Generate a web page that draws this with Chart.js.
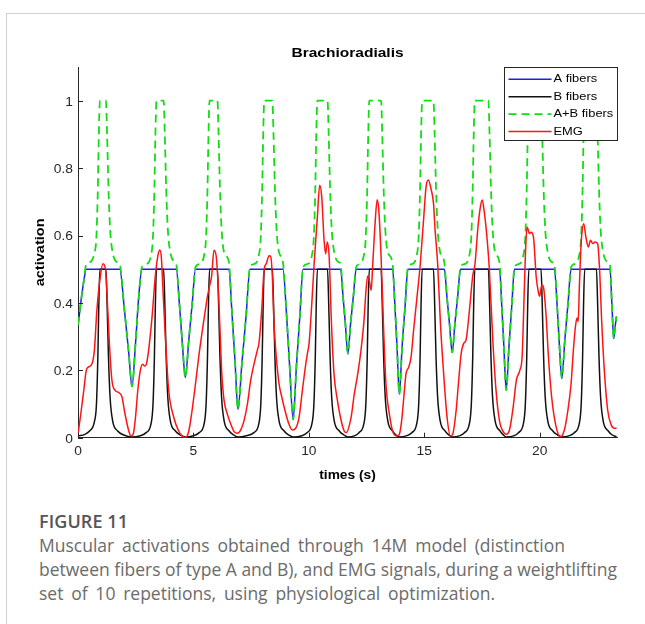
<!DOCTYPE html>
<html>
<head>
<meta charset="utf-8">
<script src="https://cdn.jsdelivr.net/npm/chart.js@4"></script>
<style>
  html, body { margin:0; padding:0; background:#fff; }
  body { width:645px; height:624px; position:relative; overflow:hidden; }
  #card { position:absolute; left:6px; top:13px; width:700px; height:700px;
          border-left:1px solid #cfcfcf; border-top:1px solid #cfcfcf; }
  #cv { position:absolute; left:0; top:0; }
  #fig { position:absolute; left:39px; top:509px; font-family:"Open Sans", sans-serif;
         font-size:18px; line-height:24px; font-weight:600; color:#555; white-space:nowrap; }
  #cap { position:absolute; left:39px; top:533px; font-family:"Open Sans", sans-serif;
         font-size:17.5px; line-height:24px; color:#6b6b6b; white-space:nowrap; }
  #cap span, #fig span { display:inline-block; }
</style>
</head>
<body>
<div id="card"></div>
<canvas id="cv" width="645" height="490"></canvas>
<div id="fig"><span>FIGURE 11</span></div>
<div id="cap"><span data-w="526">Muscular activations obtained through 14M model (distinction</span><br><span data-w="578">between fibers of type A and B), and EMG signals, during a weightlifting</span><br><span data-w="456">set of 10 repetitions, using physiological optimization.</span></div>
<script>
const chartTitle = "Brachioradialis";
const xTitle = "times (s)";
const yTitle = "activation";
const xTicks = [0, 5, 10, 15, 20];
const xTickLabels = ["0", "5", "10", "15", "20"];
const yTicks = [0, 0.2, 0.4, 0.6, 0.8, 1];
const yTickLabels = ["0", "0.2", "0.4", "0.6", "0.8", "1"];
const seriesNames = ["A fibers", "B fibers", "A+B fibers", "EMG"];

// A fibers
const tA = [0,0.12,0.24,0.36,1.81,2.01,2.20,2.34,2.49,2.63,2.77,
  4.26,4.39,4.52,4.65,4.80,4.95,5.09,
  6.54,6.67,6.80,6.93,7.10,7.28,7.45,
  8.88,9.03,9.17,9.32,9.46,9.61,9.75,
  11.38,11.48,11.58,11.69,11.81,11.93,12.05,
  13.63,13.73,13.82,13.92,14.04,14.17,14.29,
  15.87,15.98,16.09,16.21,16.33,16.45,16.57,
  18.26,18.36,18.45,18.55,18.67,18.79,18.91,
  20.64,20.75,20.85,20.96,21.09,21.23,21.36,
  23.05,23.12,23.21,23.27,23.33];
const vA = [0.33,0.40,0.46,0.5,0.5,0.38,0.25,0.152,0.278,0.417,0.5,
  0.5,0.40,0.28,0.179,0.29,0.40,0.5,
  0.5,0.37,0.23,0.084,0.22,0.36,0.5,
  0.5,0.37,0.21,0.054,0.21,0.36,0.5,
  0.5,0.42,0.34,0.249,0.34,0.42,0.5,
  0.5,0.39,0.27,0.129,0.27,0.39,0.5,
  0.5,0.42,0.34,0.253,0.34,0.42,0.5,
  0.5,0.39,0.27,0.141,0.27,0.39,0.5,
  0.5,0.40,0.28,0.176,0.29,0.40,0.5,
  0.5,0.41,0.294,0.33,0.36];

// B fibers
const tB = [0,0.3,0.5,0.7,0.8,0.86,0.9,0.95,1.21,1.26,1.32,1.39,1.50,1.72,1.98,2.34,
  2.70,2.95,3.16,3.25,3.31,3.35,3.40,3.71,3.76,3.82,3.89,4.00,4.22,4.44,4.65,
  5.00,5.25,5.46,5.55,5.61,5.65,5.70,6.04,6.09,6.15,6.22,6.33,6.55,6.75,6.93,
  7.30,7.62,7.83,7.92,7.98,8.02,8.07,8.42,8.47,8.53,8.60,8.71,8.93,9.13,9.32,
  9.70,9.92,10.13,10.22,10.28,10.32,10.37,10.81,10.86,10.92,10.99,11.10,11.32,11.52,11.69,
  12.00,12.17,12.38,12.47,12.53,12.57,12.62,13.13,13.18,13.24,13.31,13.42,13.62,13.78,13.92,
  14.25,14.46,14.67,14.76,14.82,14.86,14.91,15.40,15.45,15.51,15.58,15.69,15.90,16.07,16.21,
  16.55,16.74,16.95,17.04,17.10,17.14,17.19,17.78,17.83,17.89,17.96,18.07,18.28,18.43,18.55,
  18.90,19.08,19.29,19.38,19.44,19.48,19.53,20.06,20.11,20.17,20.24,20.35,20.57,20.78,20.96,
  21.30,21.50,21.71,21.80,21.86,21.90,21.95,22.46,22.51,22.57,22.64,22.75,22.97,23.15,23.33];
const vB = [0.005,0.01,0.02,0.045,0.1,0.24,0.39,0.5,0.5,0.4,0.24,0.12,0.05,0.02,0.008,0.002,
  0.006,0.015,0.04,0.1,0.24,0.39,0.5,0.5,0.4,0.24,0.12,0.05,0.02,0.008,0.002,
  0.006,0.015,0.04,0.1,0.24,0.39,0.5,0.5,0.4,0.24,0.12,0.05,0.02,0.008,0.002,
  0.006,0.015,0.04,0.1,0.24,0.39,0.5,0.5,0.4,0.24,0.12,0.05,0.02,0.008,0.002,
  0.006,0.015,0.04,0.1,0.24,0.39,0.5,0.5,0.4,0.24,0.12,0.05,0.02,0.008,0.002,
  0.006,0.015,0.04,0.1,0.24,0.39,0.5,0.5,0.4,0.24,0.12,0.05,0.02,0.008,0.002,
  0.006,0.015,0.04,0.1,0.24,0.39,0.5,0.5,0.4,0.24,0.12,0.05,0.02,0.008,0.002,
  0.006,0.015,0.04,0.1,0.24,0.39,0.5,0.5,0.4,0.24,0.12,0.05,0.02,0.008,0.002,
  0.006,0.015,0.04,0.1,0.24,0.39,0.5,0.5,0.4,0.24,0.12,0.05,0.02,0.008,0.002,
  0.006,0.015,0.04,0.1,0.24,0.39,0.5,0.5,0.4,0.24,0.12,0.05,0.02,0.008,0.003];

// A+B fibers
const tAB = [0,0.12,0.24,0.36,0.5,0.7,0.8,0.86,0.9,0.95,1.21,1.26,1.32,1.39,1.50,1.72,1.81,2.01,2.20,2.34,2.49,2.63,2.77,
  2.95,3.16,3.25,3.31,3.35,3.40,3.71,3.76,3.82,3.89,4.00,4.22,4.26,4.39,4.52,4.65,4.80,4.95,5.09,
  5.25,5.46,5.55,5.61,5.65,5.70,6.04,6.09,6.15,6.22,6.33,6.54,6.67,6.80,6.93,7.10,7.28,7.45,
  7.62,7.83,7.92,7.98,8.02,8.07,8.42,8.47,8.53,8.60,8.71,8.88,9.03,9.17,9.32,9.46,9.61,9.75,
  9.92,10.13,10.22,10.28,10.32,10.37,10.81,10.86,10.92,10.99,11.10,11.32,11.38,11.48,11.58,11.69,11.81,11.93,12.05,
  12.17,12.38,12.47,12.53,12.57,12.62,13.13,13.18,13.24,13.31,13.42,13.62,13.73,13.82,13.92,14.04,14.17,14.29,
  14.46,14.67,14.76,14.82,14.86,14.91,15.40,15.45,15.51,15.58,15.69,15.87,15.98,16.09,16.21,16.33,16.45,16.57,
  16.74,16.95,17.04,17.10,17.14,17.19,17.78,17.83,17.89,17.96,18.07,18.26,18.36,18.45,18.55,18.67,18.79,18.91,
  19.08,19.29,19.38,19.44,19.48,19.53,20.06,20.11,20.17,20.24,20.35,20.57,20.64,20.75,20.85,20.96,21.09,21.23,21.36,
  21.50,21.71,21.80,21.86,21.90,21.95,22.46,22.51,22.57,22.64,22.75,22.97,23.05,23.12,23.21,23.27,23.33];
const vAB = [0.335,0.40,0.46,0.515,0.52,0.545,0.6,0.74,0.89,1.0,1.0,0.9,0.74,0.62,0.55,0.52,0.515,0.38,0.25,0.152,0.278,0.417,0.506,
  0.515,0.54,0.6,0.74,0.89,1.0,1.0,0.9,0.74,0.62,0.55,0.52,0.515,0.40,0.28,0.179,0.29,0.40,0.506,
  0.515,0.54,0.6,0.74,0.89,1.0,1.0,0.9,0.74,0.62,0.55,0.52,0.37,0.23,0.084,0.22,0.36,0.506,
  0.515,0.54,0.6,0.74,0.89,1.0,1.0,0.9,0.74,0.62,0.55,0.52,0.37,0.21,0.054,0.21,0.36,0.506,
  0.515,0.54,0.6,0.74,0.89,1.0,1.0,0.9,0.74,0.62,0.55,0.52,0.515,0.42,0.34,0.249,0.34,0.42,0.506,
  0.515,0.54,0.6,0.74,0.89,1.0,1.0,0.9,0.74,0.62,0.55,0.52,0.39,0.27,0.129,0.27,0.39,0.506,
  0.515,0.54,0.6,0.74,0.89,1.0,1.0,0.9,0.74,0.62,0.55,0.52,0.42,0.34,0.253,0.34,0.42,0.506,
  0.515,0.54,0.6,0.74,0.89,1.0,1.0,0.9,0.74,0.62,0.55,0.52,0.39,0.27,0.141,0.27,0.39,0.506,
  0.515,0.54,0.6,0.74,0.89,1.0,1.0,0.9,0.74,0.62,0.55,0.52,0.515,0.40,0.28,0.176,0.29,0.40,0.506,
  0.515,0.54,0.6,0.74,0.89,1.0,1.0,0.9,0.74,0.62,0.55,0.52,0.51,0.41,0.294,0.33,0.36];

// EMG
const tE = [0,0.1,0.25,0.36,0.46,0.61,0.71,0.82,0.97,1.08,1.19,1.26,1.36,1.47,1.62,1.76,1.91,2.01,2.2,2.3,2.39,2.49,2.59,2.7,2.8,2.88,2.96,3.06,3.21,3.35,3.45,3.54,3.61,3.68,3.79,3.93,4.15,4.36,4.51,4.65,4.80,4.94,5.09,5.23,5.37,5.52,5.61,5.70,5.79,5.89,5.99,6.08,6.14,6.23,6.33,6.47,6.62,6.76,6.91,7.05,7.19,7.34,7.48,7.63,7.77,7.84,7.96,8.06,8.16,8.28,8.35,8.42,8.49,8.59,8.71,8.83,8.97,9.14,9.29,9.43,9.58,9.72,9.87,9.94,10.01,10.13,10.23,10.37,10.47,10.56,10.66,10.73,10.80,10.88,10.98,11.09,11.24,11.38,11.53,11.62,11.83,11.97,12.12,12.26,12.38,12.48,12.55,12.62,12.70,12.77,12.87,12.96,13.03,13.13,13.23,13.34,13.49,13.63,13.82,13.92,14.02,14.14,14.21,14.33,14.43,14.54,14.69,14.83,14.98,15.08,15.18,15.30,15.40,15.47,15.58,15.70,15.84,15.99,16.13,16.23,16.38,16.48,16.60,16.71,16.81,16.96,17.10,17.20,17.32,17.42,17.51,17.60,17.70,17.82,17.97,18.11,18.26,18.45,18.56,18.70,18.85,18.99,19.14,19.24,19.30,19.38,19.45,19.56,19.63,19.73,19.85,19.95,20.0,20.09,20.16,20.28,20.38,20.52,20.71,20.9,21.07,21.22,21.36,21.46,21.55,21.62,21.67,21.72,21.80,21.91,22.0,22.11,22.2,22.3,22.4,22.51,22.59,22.69,22.81,22.95,23.1,23.24,23.33];
const vE = [0.01,0.06,0.14,0.2,0.21,0.22,0.26,0.38,0.48,0.516,0.5,0.42,0.28,0.17,0.14,0.134,0.12,0.08,0.02,0.005,0.01,0.06,0.14,0.2,0.218,0.213,0.218,0.26,0.36,0.48,0.536,0.557,0.536,0.44,0.29,0.14,0.06,0.02,0.005,0.0,0.02,0.08,0.16,0.24,0.31,0.38,0.42,0.45,0.48,0.556,0.537,0.44,0.34,0.19,0.11,0.07,0.04,0.018,0.013,0.023,0.05,0.10,0.17,0.22,0.26,0.28,0.38,0.497,0.517,0.54,0.537,0.477,0.34,0.24,0.16,0.12,0.08,0.04,0.023,0.028,0.062,0.14,0.22,0.25,0.28,0.40,0.517,0.655,0.749,0.714,0.586,0.546,0.581,0.537,0.34,0.19,0.11,0.057,0.02,0.015,0.06,0.13,0.19,0.26,0.34,0.44,0.48,0.467,0.437,0.517,0.636,0.706,0.676,0.537,0.34,0.16,0.07,0.02,0.005,0.01,0.05,0.14,0.19,0.21,0.24,0.32,0.42,0.517,0.656,0.746,0.765,0.736,0.696,0.616,0.517,0.34,0.19,0.06,0.005,0.01,0.08,0.16,0.25,0.28,0.29,0.38,0.48,0.517,0.62,0.68,0.705,0.67,0.607,0.50,0.29,0.14,0.05,0.015,0.01,0.025,0.09,0.17,0.2,0.24,0.36,0.54,0.625,0.606,0.61,0.596,0.477,0.43,0.42,0.453,0.448,0.36,0.24,0.12,0.033,0.003,0.023,0.08,0.16,0.26,0.33,0.355,0.345,0.45,0.58,0.635,0.596,0.566,0.586,0.576,0.581,0.576,0.507,0.34,0.19,0.08,0.038,0.028,0.028];

const seriesColors = ["#1e1ee6", "#111111", "#14dc14", "#ff1414"];

function pts(t, v) { return t.map((x, i) => ({ x: x, y: v[i] })); }

const TXT = "#262626";
const FAM = '"Liberation Sans", Arial, sans-serif';
function sText(ctx, str, x, y, font, align, sx, rot, color) {
  ctx.save();
  ctx.translate(x, y);
  if (rot) ctx.rotate(-Math.PI / 2);
  ctx.scale(sx, 1);
  ctx.font = font; ctx.textAlign = align; ctx.textBaseline = "middle";
  ctx.fillStyle = color;
  ctx.fillText(str, 0, 0);
  ctx.restore();
}

const deco = {
  id: "deco",
  afterDraw(chart) {
    const ctx = chart.ctx, ca = chart.chartArea;
    const xs = chart.scales.x, ys = chart.scales.y;
    ctx.save();
    // inward tick marks
    ctx.strokeStyle = TXT; ctx.lineWidth = 1;
    xTicks.forEach(v => {
      const p = Math.round(xs.getPixelForValue(v)) + 0.5;
      ctx.beginPath(); ctx.moveTo(p, ca.bottom); ctx.lineTo(p, ca.bottom - 5); ctx.stroke();
    });
    yTicks.forEach(v => {
      const p = Math.round(ys.getPixelForValue(v)) + 0.5;
      ctx.beginPath(); ctx.moveTo(ca.left, p); ctx.lineTo(ca.left + 5, p); ctx.stroke();
    });
    // tick labels
    xTicks.forEach((v, i) => sText(ctx, xTickLabels[i], xs.getPixelForValue(v), ca.bottom + 13.5, "12px " + FAM, "center", 1.15, false, TXT));
    yTicks.forEach((v, i) => sText(ctx, yTickLabels[i], ca.left - 5, ys.getPixelForValue(v) + 1.5, "12px " + FAM, "right", 1.15, false, TXT));
    // axis titles + title
    const cx = (ca.left + ca.right) / 2, cy = (ca.top + ca.bottom) / 2;
    sText(ctx, xTitle, cx, ca.bottom + 37.5, "bold 12.5px " + FAM, "center", 1.1, false, "#000");
    sText(ctx, yTitle, 40, cy, "bold 13px " + FAM, "center", 1.12, true, "#000");
    sText(ctx, chartTitle, cx, ca.top - 14, "bold 13.5px " + FAM, "center", 1.15, false, "#000");
    // legend box
    const bw = 113, bh = 73;
    const bx = Math.round(ca.right - bw) + 0.5, by = Math.round(ca.top) + 0.5;
    ctx.fillStyle = "#fff";
    ctx.fillRect(bx, by, bw, bh);
    ctx.strokeStyle = TXT; ctx.lineWidth = 1;
    ctx.strokeRect(bx, by, bw, bh);
    chart.data.datasets.forEach((ds, i) => {
      const yy = by + 11.8 + i * 17.4;
      ctx.save();
      ctx.strokeStyle = ds.borderColor; ctx.lineWidth = ds.borderWidth;
      ctx.setLineDash(ds.borderDash || []);
      ctx.beginPath(); ctx.moveTo(bx + 4, yy); ctx.lineTo(bx + 47, yy); ctx.stroke();
      ctx.restore();
      sText(ctx, ds.label, bx + 49, yy, "11.5px " + FAM, "left", 1.12, false, "#000");
    });
    ctx.restore();
  }
};

const common = { pointRadius: 0, cubicInterpolationMode: "monotone", fill: false };
new Chart(document.getElementById("cv"), {
  type: "line",
  data: {
    datasets: [
      Object.assign({ label: seriesNames[0], data: pts(tA, vA), borderColor: seriesColors[0], borderWidth: 1.5, order: 4 }, common),
      Object.assign({ label: seriesNames[1], data: pts(tB, vB), borderColor: seriesColors[1], borderWidth: 1.5, order: 3 }, common),
      Object.assign({ label: seriesNames[2], data: pts(tAB, vAB), borderColor: seriesColors[2], borderWidth: 1.8, borderDash: [8, 5], order: 2 }, common),
      Object.assign({ label: seriesNames[3], data: pts(tE, vE), borderColor: seriesColors[3], borderWidth: 1.5, order: 1 }, common)
    ]
  },
  options: {
    responsive: false,
    animation: false,
    devicePixelRatio: 1,
    layout: { padding: { left: 0, right: 28, top: 67, bottom: 9 } },
    plugins: { legend: { display: false }, title: { display: false }, tooltip: { enabled: false } },
    scales: {
      x: {
        type: "linear", min: 0, max: 23.35,
        afterBuildTicks: s => { s.ticks = xTicks.map(v => ({ value: v })); },
        afterFit: s => { s.height = 43.3; },
        grid: { display: false, drawTicks: false },
        border: { display: true, color: TXT, width: 1 },
        ticks: { display: false },
        title: { display: false }
      },
      y: {
        type: "linear", min: 0, max: 1.1,
        afterBuildTicks: s => { s.ticks = yTicks.map(v => ({ value: v })); },
        afterFit: s => { s.width = 78; },
        grid: { display: false, drawTicks: false },
        border: { display: true, color: TXT, width: 1 },
        ticks: { display: false },
        title: { display: false }
      }
    }
  },
  plugins: [deco]
});

// fit caption lines to the reference line lengths
function fitCaption() {
  document.querySelectorAll("#cap span").forEach(sp => {
    sp.style.wordSpacing = "0px";
    const target = parseFloat(sp.dataset.w);
    const w = sp.getBoundingClientRect().width;
    const n = (sp.textContent.match(/ /g) || []).length;
    if (n) sp.style.wordSpacing = Math.max(-2.5, (target - w) / n).toFixed(2) + "px";
  });
  const f = document.querySelector("#fig span");
  f.style.letterSpacing = "0px";
  const fw = f.getBoundingClientRect().width;
  f.style.letterSpacing = ((89 - fw) / 9).toFixed(2) + "px";
}
if (document.fonts && document.fonts.ready) document.fonts.ready.then(fitCaption); else fitCaption();
</script>
</body>
</html>
